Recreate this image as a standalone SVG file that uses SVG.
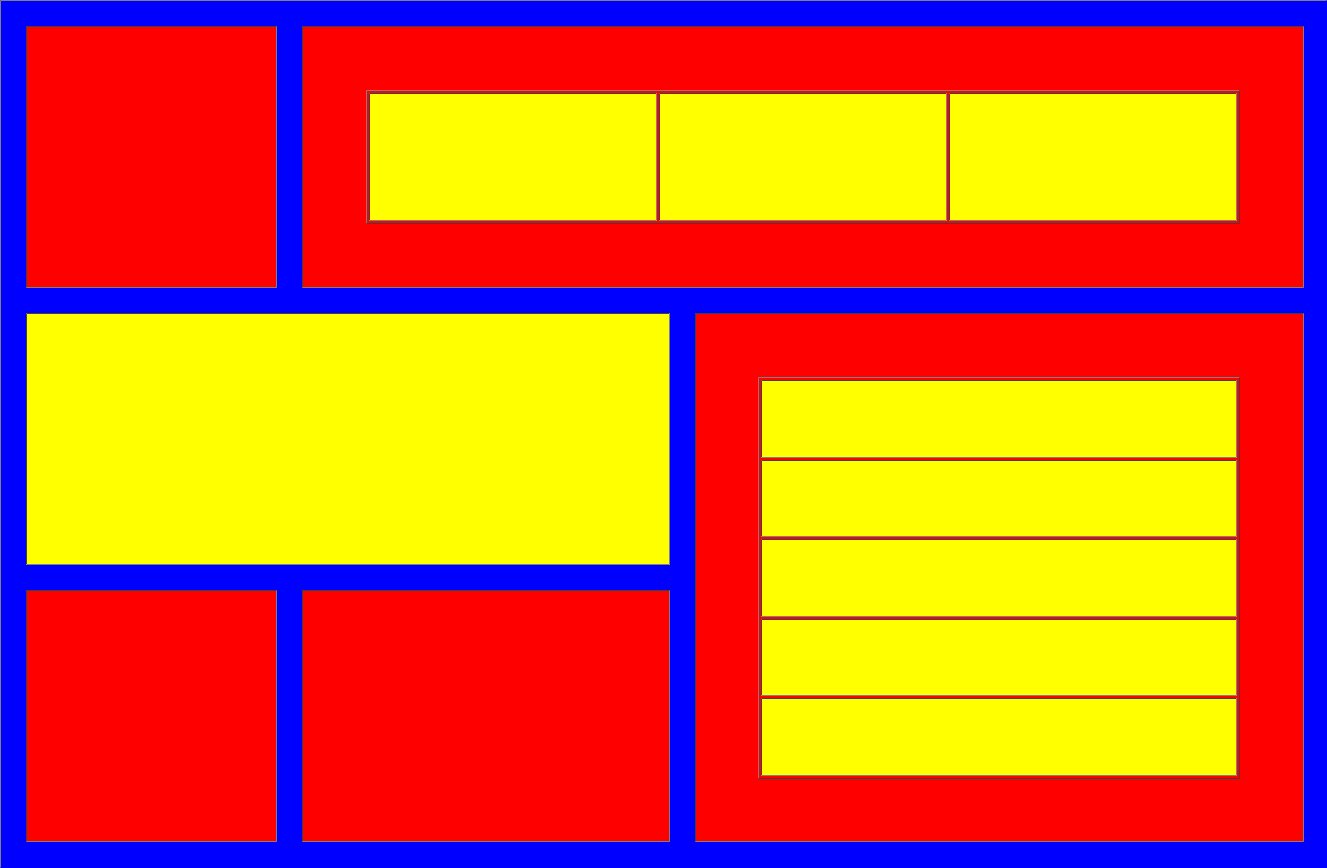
<svg xmlns="http://www.w3.org/2000/svg" width="1327" height="868" viewBox="0 0 1327 868">
<style>
.red{fill:#ff0000}
.yel{fill:#ffff00}
.dk{stroke:#404040;stroke-width:1;fill:none}
.lt{stroke:#808080;stroke-width:1;fill:none}
</style>
<g id="frame">
<rect x="0" y="0" width="1327" height="868" fill="#0000ff"/>
<path class="lt" d="M0.5,867.5 V0.5 H1326.5"/>
</g>
<g id="cell-top-left">
<rect class="red" x="26" y="26" width="251" height="262"/>
<path class="dk" d="M26.5,287.5 V26.5 H276.5"/>
<path class="lt" d="M276.5,26.5 V287.5 H26.5"/>
</g>
<g id="cell-top-right">
<rect class="red" x="302" y="26" width="1002" height="262"/>
<path class="dk" d="M302.5,287.5 V26.5 H1303.5"/>
<path class="lt" d="M1303.5,26.5 V287.5 H302.5"/>
<g id="inner-top-table">
<path class="lt" d="M366.5,223.5 V90.5 H1239.5"/>
<path class="dk" d="M1239.5,90.5 V223.5 H366.5"/>
<g id="inner-top-1">
<rect class="yel" x="369" y="93" width="288" height="128"/>
<path class="dk" d="M369.5,220.5 V93.5 H656.5"/>
<path class="lt" d="M656.5,93.5 V220.5 H369.5"/>
</g>
<g id="inner-top-2">
<rect class="yel" x="659" y="93" width="288" height="128"/>
<path class="dk" d="M659.5,220.5 V93.5 H946.5"/>
<path class="lt" d="M946.5,93.5 V220.5 H659.5"/>
</g>
<g id="inner-top-3">
<rect class="yel" x="949" y="93" width="288" height="128"/>
<path class="dk" d="M949.5,220.5 V93.5 H1236.5"/>
<path class="lt" d="M1236.5,93.5 V220.5 H949.5"/>
</g>
</g>
</g>
<g id="cell-middle">
<rect class="yel" x="26" y="313" width="644" height="252"/>
<path class="dk" d="M26.5,564.5 V313.5 H669.5"/>
<path class="lt" d="M669.5,313.5 V564.5 H26.5"/>
</g>
<g id="cell-bottom-left">
<rect class="red" x="26" y="590" width="251" height="252"/>
<path class="dk" d="M26.5,841.5 V590.5 H276.5"/>
<path class="lt" d="M276.5,590.5 V841.5 H26.5"/>
</g>
<g id="cell-bottom-mid">
<rect class="red" x="302" y="590" width="368" height="252"/>
<path class="dk" d="M302.5,841.5 V590.5 H669.5"/>
<path class="lt" d="M669.5,590.5 V841.5 H302.5"/>
</g>
<g id="cell-right">
<rect class="red" x="695" y="313" width="609" height="529"/>
<path class="dk" d="M695.5,841.5 V313.5 H1303.5"/>
<path class="lt" d="M1303.5,313.5 V841.5 H695.5"/>
<g id="inner-right-table">
<path class="lt" d="M758.5,778.5 V377.5 H1239.5"/>
<path class="dk" d="M1239.5,377.5 V778.5 H758.5"/>
<g id="inner-right-1">
<rect class="yel" x="761" y="380" width="476" height="78"/>
<path class="dk" d="M761.5,457.5 V380.5 H1236.5"/>
<path class="lt" d="M1236.5,380.5 V457.5 H761.5"/>
</g>
<g id="inner-right-2">
<rect class="yel" x="761" y="460" width="476" height="77"/>
<path class="dk" d="M761.5,536.5 V460.5 H1236.5"/>
<path class="lt" d="M1236.5,460.5 V536.5 H761.5"/>
</g>
<g id="inner-right-3">
<rect class="yel" x="761" y="539" width="476" height="78"/>
<path class="dk" d="M761.5,616.5 V539.5 H1236.5"/>
<path class="lt" d="M1236.5,539.5 V616.5 H761.5"/>
</g>
<g id="inner-right-4">
<rect class="yel" x="761" y="619" width="476" height="77"/>
<path class="dk" d="M761.5,695.5 V619.5 H1236.5"/>
<path class="lt" d="M1236.5,619.5 V695.5 H761.5"/>
</g>
<g id="inner-right-5">
<rect class="yel" x="761" y="698" width="476" height="78"/>
<path class="dk" d="M761.5,775.5 V698.5 H1236.5"/>
<path class="lt" d="M1236.5,698.5 V775.5 H761.5"/>
</g>
</g>
</g>
<g id="connectors"/>
</svg>
